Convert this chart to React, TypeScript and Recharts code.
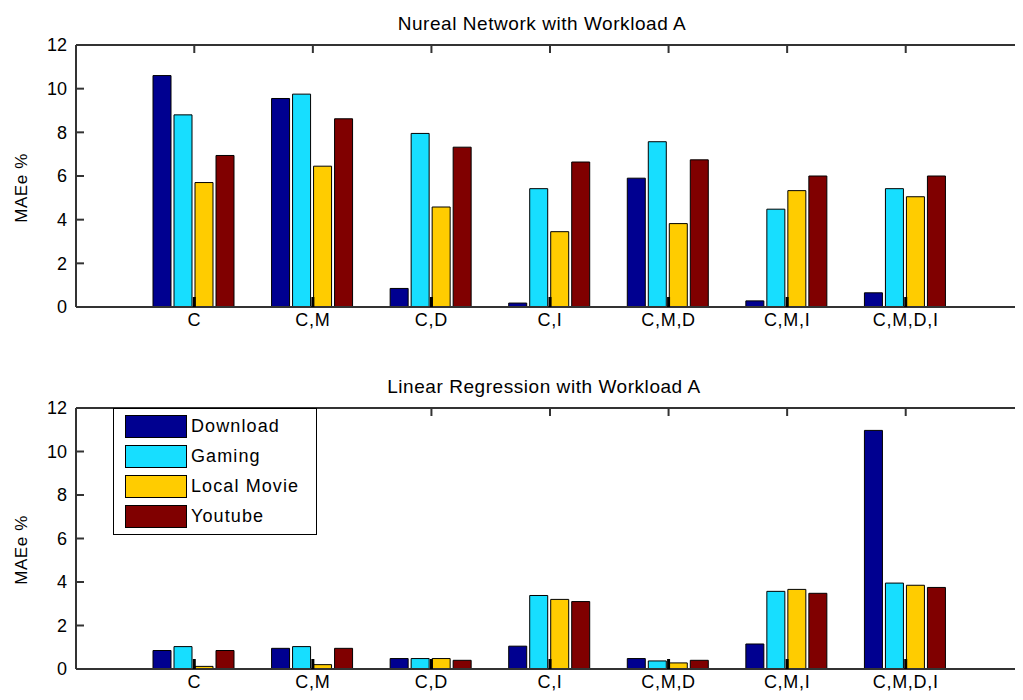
import { Bar, BarChart, Legend, XAxis, YAxis } from 'recharts'

const categories = ['C', 'C,M', 'C,D', 'C,I', 'C,M,D', 'C,M,I', 'C,M,D,I']
const seriesNames = ['Download', 'Gaming', 'Local Movie', 'Youtube']
const yTicks = [0, 2, 4, 6, 8, 10, 12]

// Nureal Network with Workload A
const nnDownload = [10.6, 9.55, 0.85, 0.18, 5.9, 0.28, 0.65]
const nnGaming = [8.8, 9.75, 7.95, 5.42, 7.57, 4.48, 5.42]
const nnLocalMovie = [5.7, 6.45, 4.58, 3.45, 3.82, 5.33, 5.05]
const nnYoutube = [6.94, 8.62, 7.32, 6.64, 6.74, 6.0, 6.0]

// Linear Regression with Workload A
const lrDownload = [0.85, 0.95, 0.48, 1.05, 0.48, 1.15, 10.97]
const lrGaming = [1.03, 1.03, 0.48, 3.38, 0.37, 3.57, 3.95]
const lrLocalMovie = [0.12, 0.2, 0.48, 3.2, 0.28, 3.66, 3.85]
const lrYoutube = [0.85, 0.95, 0.4, 3.1, 0.4, 3.48, 3.75]

const COLORS = ['#000090', '#17DEFF', '#FFCC00', '#800000']
const FONT = '"Liberation Sans", Arial, Helvetica, sans-serif'
const AXIS = '#333'
const TICK_LEN = 8

type Row = Record<string, string | number>

function buildRows(series: number[][]): Row[] {
  return categories.map((name, i) => {
    const row: Row = { name }
    seriesNames.forEach((s, j) => {
      row[s] = series[j][i]
    })
    return row
  })
}

const nnRows = buildRows([nnDownload, nnGaming, nnLocalMovie, nnYoutube])
const lrRows = buildRows([lrDownload, lrGaming, lrLocalMovie, lrYoutube])

// matlab style ticks: pointing into the plot box, labels outside
const leftTick = (p: any) => (
  <g>
    <line x1={p.x} x2={p.x + TICK_LEN} y1={p.y} y2={p.y} stroke={AXIS} strokeWidth={2} />
    <text x={p.x - 9} y={p.y} dy="0.36em" textAnchor="end" fontSize={18} fontFamily={FONT} fill="#000">
      {p.payload.value}
    </text>
  </g>
)
const rightTick = (p: any) => (
  <line x1={p.x} x2={p.x - TICK_LEN} y1={p.y} y2={p.y} stroke={AXIS} strokeWidth={2} />
)
const topTick = (p: any) => (
  <line x1={p.x} x2={p.x} y1={p.y} y2={p.y + TICK_LEN} stroke={AXIS} strokeWidth={2} />
)
const bottomTick = (p: any) => (
  <g>
    <line x1={p.x} x2={p.x} y1={p.y} y2={p.y - 10} stroke="#000" strokeWidth={3} />
    <text
      x={p.x}
      y={p.y + 19}
      textAnchor="middle"
      fontSize={18}
      fontFamily={FONT}
      letterSpacing={0.7}
      fill="#000"
    >
      {p.payload.value}
    </text>
  </g>
)

function renderLegend() {
  return (
    <div
      style={{
        border: '1px solid #000',
        background: '#fff',
        width: 202,
        height: 125,
        boxSizing: 'content-box',
        position: 'relative',
        fontFamily: FONT,
      }}
    >
      {seriesNames.map((s, i) => (
        <div
          key={s}
          style={{ position: 'absolute', left: 11, top: 6 + i * 30, display: 'flex', alignItems: 'center' }}
        >
          <div style={{ width: 60, height: 21, background: COLORS[i], border: '1px solid #000' }} />
          <span style={{ marginLeft: 4, fontSize: 18, letterSpacing: 1.1, color: '#000' }}>{s}</span>
        </div>
      ))}
    </div>
  )
}

type PanelProps = {
  rows: Row[]
  top: number
  plotHeight: number
  showLegend?: boolean
}

function Panel({ rows, top, plotHeight, showLegend }: PanelProps) {
  const height = 330
  return (
    <div style={{ position: 'absolute', left: 0, top }}>
      <BarChart
        width={1026}
        height={height}
        data={rows}
        margin={{ top: 36, right: 0, left: 0, bottom: 0 }}
        barCategoryGap={18}
        barGap={3}
      >
        {seriesNames.map((s, i) => (
          <Bar key={s} dataKey={s} fill={COLORS[i]} stroke="#000" strokeWidth={1} isAnimationActive={false} />
        ))}
        <XAxis
          xAxisId="top"
          orientation="top"
          dataKey="name"
          height={1}
          padding={{ left: 59, right: 59 }}
          stroke={AXIS}
          strokeWidth={2}
          tickLine={false}
          tickSize={0}
          tickMargin={0}
          tick={topTick}
          interval={0}
        />
        <XAxis
          dataKey="name"
          height={height - 37 - plotHeight}
          padding={{ left: 59, right: 59 }}
          stroke={AXIS}
          strokeWidth={2}
          tickLine={false}
          tickSize={0}
          tickMargin={0}
          tick={bottomTick}
          interval={0}
        />
        <YAxis
          width={68}
          domain={[0, 12]}
          ticks={yTicks}
          stroke={AXIS}
          strokeWidth={2}
          tickLine={false}
          tickSize={0}
          tickMargin={0}
          tick={leftTick}
          interval={0}
        />
        <YAxis
          yAxisId="right"
          orientation="right"
          width={10}
          domain={[0, 12]}
          ticks={yTicks}
          axisLine={false}
          tickLine={false}
          tickSize={0}
          tickMargin={0}
          tick={rightTick}
          interval={0}
        />
        {showLegend && (
          <Legend
            layout="horizontal"
            verticalAlign="middle"
            content={renderLegend}
            wrapperStyle={{ left: 105, top: 37, width: 'auto', height: 'auto' }}
          />
        )}
      </BarChart>
    </div>
  )
}

const titleStyle = {
  position: 'absolute' as const,
  width: 600,
  textAlign: 'center' as const,
  fontFamily: FONT,
  fontSize: 19,
  lineHeight: '19px',
  letterSpacing: 0.55,
  color: '#000',
  whiteSpace: 'nowrap' as const,
}

const yLabelStyle = {
  position: 'absolute' as const,
  transform: 'translate(-50%, -50%) rotate(-90deg)',
  fontFamily: FONT,
  fontSize: 17,
  lineHeight: '17px',
  letterSpacing: 0.6,
  color: '#000',
  whiteSpace: 'nowrap' as const,
}

export default function App() {
  return (
    <div style={{ position: 'relative', width: 1015, height: 692, overflow: 'hidden', background: '#fff' }}>
      <Panel rows={nnRows} top={0} plotHeight={262} />
      <Panel rows={lrRows} top={363} plotHeight={261} showLegend />
      <div style={{ ...titleStyle, left: 234, top: 6 }}>Nureal Network with Workload A</div>
      <div style={{ ...titleStyle, left: 236, top: 369 }}>Linear Regression with Workload A</div>
      <div style={{ ...yLabelStyle, left: 13, top: 180 }}>MAEe %</div>
      <div style={{ ...yLabelStyle, left: 13, top: 542 }}>MAEe %</div>
    </div>
  )
}
